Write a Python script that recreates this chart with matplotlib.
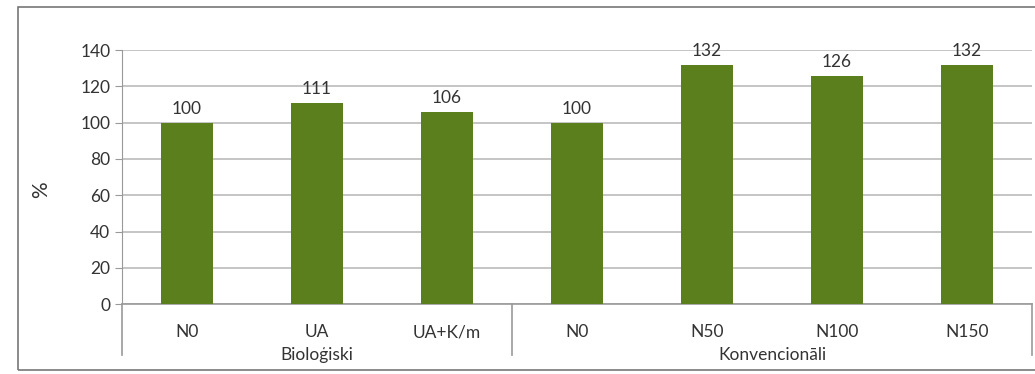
import matplotlib.pyplot as plt
from matplotlib.patches import Rectangle
from matplotlib.lines import Line2D

plt.rcParams['font.family'] = ['Lato', 'DejaVu Sans']

# data
kategorijas = ['N0', 'UA', 'UA+K/m', 'N0', 'N50', 'N100', 'N150']
vertibas = [100, 111, 106, 100, 132, 126, 132]
grupas = ['Bioloģiski', 'Konvencionāli']
grupu_izmeri = [3, 4]
y_ticks = [0, 20, 40, 60, 80, 100, 120, 140]

zala = '#5a7f1c'

fig = plt.figure(figsize=(10.35, 3.74), dpi=100)
ax = fig.add_axes([0.118, 0.187, 0.879, 0.679])

x = list(range(len(vertibas)))
ax.bar(x, vertibas, width=0.4, color=zala, zorder=3)
for xi, v in zip(x, vertibas):
    ax.text(xi, v + 3, str(v), ha='center', va='bottom', fontsize=12.5, color='#333333')

ax.set_xlim(-0.5, len(vertibas) - 0.5)
ax.set_ylim(0, 140)
ax.set_yticks(y_ticks)
ax.tick_params(axis='y', labelsize=12.5, length=5, color='#999999', labelcolor='#333333')
ax.set_xticks([])
ax.yaxis.grid(True, color='#bbbbbb', linewidth=1.2, zorder=0)
for s in ['top', 'right']:
    ax.spines[s].set_visible(False)
ax.spines['left'].set_color('#999999')
ax.spines['bottom'].set_color('#999999')
ax.spines['bottom'].set_linewidth(1.2)
ax.set_ylabel('%', fontsize=15, color='#333333')
ax.yaxis.set_label_coords(-0.078, 0.45)

# category and group labels under the axis
trans = ax.get_xaxis_transform()
for xi, lab in enumerate(kategorijas):
    ax.text(xi, -0.08, lab, transform=trans, ha='center', va='top', fontsize=12.5, color='#333333')

start = 0
seps = [-0.5]
for g, n in zip(grupas, grupu_izmeri):
    mid = start + (n - 1) / 2
    ax.text(mid, -0.17, g, transform=trans, ha='center', va='top', fontsize=12.5, color='#333333')
    start += n
    seps.append(start - 0.5)
for s in seps:
    ax.add_line(Line2D([s, s], [0, -0.2], transform=trans, color='#999999',
                       linewidth=1.2, clip_on=False))

# outer frame of the scanned chart
fig.patches.append(Rectangle((0.017, 0.011), 1.0, 0.97, transform=fig.transFigure,
                             fill=False, edgecolor='#777777', linewidth=1.2))

fig.savefig('out.png', dpi=100)
